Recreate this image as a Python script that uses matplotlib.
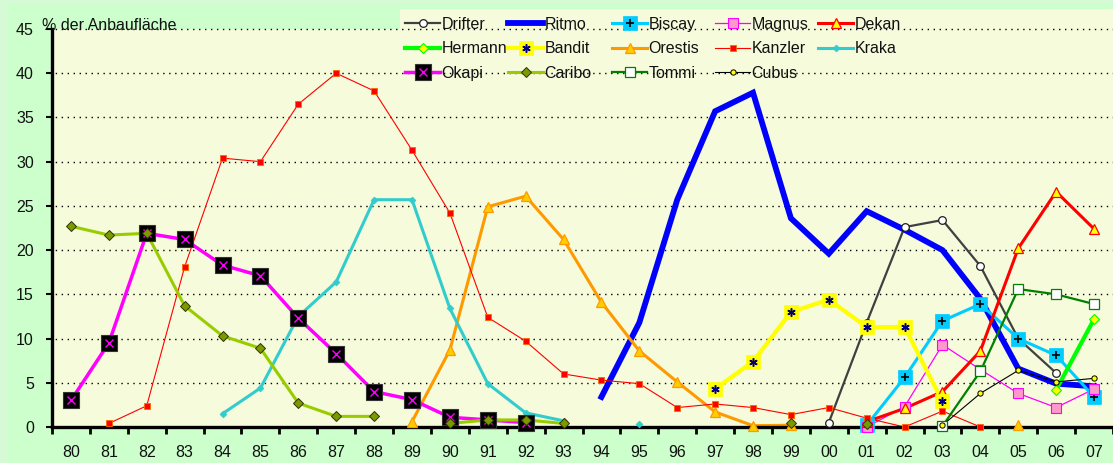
import numpy as np
import matplotlib
matplotlib.use("Agg")
import matplotlib.pyplot as plt
from matplotlib.lines import Line2D
from matplotlib.patches import Rectangle

plt.rcParams['font.family'] = ['Liberation Sans', 'DejaVu Sans']

nan = np.nan
years = ['80', '81', '82', '83', '84', '85', '86', '87', '88', '89',
         '90', '91', '92', '93', '94', '95', '96', '97', '98', '99',
         '00', '01', '02', '03', '04', '05', '06', '07']

def ser(d):
    a = [nan] * len(years)
    for k, v in d.items():
        a[years.index(k)] = v
    return a

drifter = ser({'00': 0.5, '01': 11.8, '02': 22.6, '03': 23.4, '04': 18.2, '05': 10.0, '06': 6.1})
ritmo = ser({'94': 3.4, '95': 11.8, '96': 25.7, '97': 35.7, '98': 37.8, '99': 23.6, '00': 19.6,
             '01': 24.4, '02': 22.3, '03': 20.0, '04': 14.5, '05': 6.6, '06': 4.9, '07': 4.6})
biscay = ser({'01': 0.2, '02': 5.6, '03': 12.0, '04': 13.9, '05': 10.0, '06': 8.1, '07': 3.4})
magnus = ser({'01': 0.0, '02': 2.3, '03': 9.3, '04': 6.5, '05': 3.8, '06': 2.2, '07': 4.3})
dekan = ser({'01': 0.6, '02': 2.1, '03': 4.0, '04': 8.6, '05': 20.2, '06': 26.6, '07': 22.4})
hermann = ser({'06': 4.2, '07': 12.2})
bandit = ser({'97': 4.3, '98': 7.4, '99': 13.0, '00': 14.4, '01': 11.3, '02': 11.3, '03': 2.9})
orestis = ser({'89': 0.6, '90': 8.7, '91': 24.9, '92': 26.1, '93': 21.2, '94': 14.1, '95': 8.6,
               '96': 5.1, '97': 1.7, '98': 0.15, '99': 0.2, '05': 0.2})
kanzler = ser({'81': 0.4, '82': 2.4, '83': 18.1, '84': 30.4, '85': 30.0, '86': 36.5, '87': 40.0,
               '88': 38.0, '89': 31.3, '90': 24.2, '91': 12.4, '92': 9.7, '93': 6.0, '94': 5.3,
               '95': 4.9, '96': 2.2, '97': 2.6, '98': 2.2, '99': 1.4, '00': 2.2, '01': 1.0,
               '02': 0.0, '03': 1.8, '04': 0.0})
kraka = ser({'84': 1.5, '85': 4.4, '86': 12.5, '87': 16.4, '88': 25.7, '89': 25.7, '90': 13.4,
             '91': 4.9, '92': 1.6, '93': 0.7, '95': 0.3})
okapi = ser({'80': 3.0, '81': 9.5, '82': 21.9, '83': 21.2, '84': 18.3, '85': 17.1, '86': 12.3,
             '87': 8.3, '88': 4.0, '89': 3.1, '90': 1.1, '91': 0.8, '92': 0.5})
caribo = ser({'80': 22.7, '81': 21.7, '82': 21.9, '83': 13.7, '84': 10.3, '85': 8.9, '86': 2.7,
              '87': 1.2, '88': 1.2, '90': 0.4, '91': 0.8, '92': 0.8, '93': 0.4, '99': 0.4, '01': 0.3})
tommi = ser({'03': 0.1, '04': 6.3, '05': 15.6, '06': 15.0, '07': 13.9})
cubus = ser({'03': 0.2, '04': 3.8, '05': 6.4, '06': 5.1, '07': 5.5})

names = ['Drifter', 'Ritmo', 'Biscay', 'Magnus', 'Dekan',
         'Hermann', 'Bandit', 'Orestis', 'Kanzler', 'Kraka',
         'Okapi', 'Caribo', 'Tommi', 'Cubus']
values = [drifter, ritmo, biscay, magnus, dekan, hermann, bandit, orestis,
          kanzler, kraka, okapi, caribo, tommi, cubus]

# style: line color, lw, base marker dict, overlay marker dict
styles = {
    'Drifter': ('#404040', 1.6, dict(marker='o', ms=5.5, mfc='white', mec='#202020', mew=0.9), None),
    'Ritmo': ('#0000FF', 4.2, None, None),
    'Biscay': ('#00CCFF', 2.2, dict(marker='s', ms=9.5, mfc='#00CCFF', mec='#00CCFF', mew=0.5),
               dict(marker='+', ms=5.5, mfc='black', mec='black', mew=1.2)),
    'Magnus': ('#FF00FF', 0.9, dict(marker='s', ms=6.5, mfc='#FF99CC', mec='#FF00FF', mew=0.8), None),
    'Dekan': ('#FF0000', 2.2, dict(marker='^', ms=7.5, mfc='#FFFF00', mec='#FF0000', mew=0.9), None),
    'Hermann': ('#00FF00', 3.0, dict(marker='D', ms=5, mfc='#FFFF00', mec='#00FF00', mew=0.8), None),
    'Bandit': ('#FFFF00', 3.0, dict(marker='s', ms=9.5, mfc='#FFFF00', mec='#FFFF00', mew=0.5),
               dict(marker=(6, 2, 0), ms=6, mfc='#000080', mec='#000080', mew=1.1)),
    'Orestis': ('#FF9900', 2.2, dict(marker='^', ms=7.5, mfc='#FFCC00', mec='#FF9900', mew=0.9), None),
    'Kanzler': ('#FF0000', 0.8, dict(marker='s', ms=4.5, mfc='#FF0000', mec='#FF6600', mew=0.6), None),
    'Kraka': ('#33CCCC', 2.2, dict(marker='D', ms=3.5, mfc='#33CCCC', mec='#33CCCC', mew=0.5), None),
    'Okapi': ('#FF00FF', 2.5, dict(marker='s', ms=11.5, mfc='black', mec='#333333', mew=0.8),
              dict(marker='x', ms=5.5, mfc='#FF00FF', mec='#FF00FF', mew=1.0)),
    'Caribo': ('#99CC00', 2.2, dict(marker='D', ms=5.5, mfc='#7A9A00', mec='#333300', mew=0.7), None),
    'Tommi': ('#008000', 1.6, dict(marker='s', ms=6.5, mfc='white', mec='#008000', mew=0.9), None),
    'Cubus': ('#000000', 0.8, dict(marker='o', ms=3.8, mfc='#FFFF00', mec='black', mew=0.7), None),
}

W, H = 1113, 463
fig = plt.figure(figsize=(W / 100, H / 100), dpi=100)
fig.patch.set_facecolor('#D6FAD6')
fig.patches.append(Rectangle((7 / W, 0), 1 - 7 / W, 1 - 4 / H, transform=fig.transFigure,
                             facecolor='#CCFFCC', edgecolor='none', zorder=-10))
plot_bg = '#F6FBDC'
# legend background
fig.patches.append(Rectangle((400 / W, (H - 95) / H), (W - 400) / W, (95 - 9) / H,
                             transform=fig.transFigure, facecolor=plot_bg, edgecolor='none', zorder=-5))

ax_l, ax_r, ax_top, ax_bot = 52, 1113, 29, 427
ax = fig.add_axes([ax_l / W, (H - ax_bot) / H, (ax_r - ax_l) / W, (ax_bot - ax_top) / H])
ax.set_facecolor(plot_bg)

x = np.arange(len(years))
handles = {}
for i, (nm, vals) in enumerate(zip(names, values)):
    col, lw, mk, ov = styles[nm]
    y = np.array(vals, dtype=float)
    ax.plot(x, y, color=col, lw=lw, zorder=2 + i * 0.01, solid_joinstyle='miter', clip_on=False)
    hl = [Line2D([], [], color=col, lw=lw)]
    if mk is not None:
        ax.plot(x, y, linestyle='none', zorder=3 + i * 0.02, clip_on=False, **mk)
        hl.append(Line2D([], [], linestyle='none', **mk))
    if ov is not None:
        ax.plot(x, y, linestyle='none', zorder=3 + i * 0.02 + 0.01, clip_on=False, **ov)
        hl.append(Line2D([], [], linestyle='none', **ov))
    handles[nm] = tuple(hl)

ax.set_xlim(-0.5, len(years) - 0.5)
ax.set_ylim(0, 45)
ax.set_yticks(np.arange(0, 46, 5))
ax.set_xticks(np.arange(-0.5, len(years), 1.0))
ax.set_xticklabels([])
ax.set_xticks(x, minor=True)
ax.set_xticklabels(years, minor=True)
ax.tick_params(axis='x', which='major', direction='out', length=5, width=2, color='black')
ax.tick_params(axis='x', which='minor', length=0, pad=13, labelsize=11.5, labelcolor='#111111')
ax.tick_params(axis='y', direction='out', length=4, width=1.5, pad=9, labelsize=11.5,
               labelcolor='#111111')

for s in ['top', 'right']:
    ax.spines[s].set_visible(False)
for s in ['left', 'bottom']:
    ax.spines[s].set_linewidth(2.4)
    ax.spines[s].set_color('black')
    ax.spines[s].set_zorder(2.5)

for yv in range(5, 46, 5):
    ax.axhline(yv, color='black', lw=1.0, linestyle=(2, (1, 3.3)), zorder=1, clip_on=False)

fig.text(42 / W, (H - 25) / H, '% der Anbaufläche', fontsize=11.5, color='#111111',
         ha='left', va='center')

# legend: 5 columns placed individually
col_members = [['Drifter', 'Hermann', 'Okapi'], ['Ritmo', 'Bandit', 'Caribo'],
               ['Biscay', 'Orestis', 'Tommi'], ['Magnus', 'Kanzler', 'Cubus'],
               ['Dekan', 'Kraka']]
col_x = [405, 508, 612, 715, 818]
fs = 11.5
for cx, members in zip(col_x, col_members):
    leg = fig.legend([handles[m] for m in members], members, loc='upper left',
                     bbox_to_anchor=(cx / W, (H - 17) / H), bbox_transform=fig.transFigure,
                     frameon=False, fontsize=fs, handlelength=35 / (fs * 100 / 72),
                     handletextpad=0.1, borderpad=0, borderaxespad=0, labelspacing=0.58,
                     handleheight=0.7)
    for t in leg.get_texts():
        t.set_color('#111111')

fig.savefig('out.png', dpi=100, facecolor=fig.get_facecolor())
